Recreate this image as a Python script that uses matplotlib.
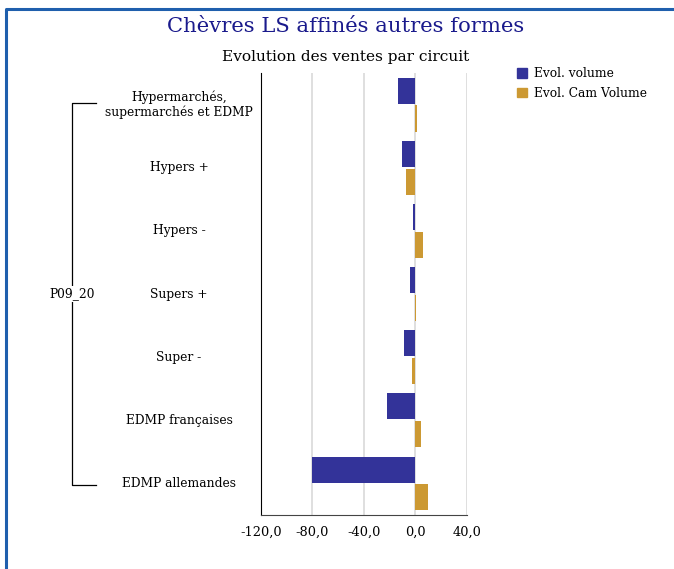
import matplotlib.pyplot as plt
import numpy as np
from matplotlib.lines import Line2D
from matplotlib.patches import Patch

categories = ['Hypermarchés,\nsupermarchés et EDMP', 'Hypers +', 'Hypers -',
              'Supers +', 'Super -', 'EDMP françaises', 'EDMP allemandes']
evol_volume = [-13.5, -10.4, -1.8, -4.1, -8.8, -22.1, -80.5]
evol_cam_volume = [1.3, -7.3, 6.0, 0.3, -2.6, 4.4, 9.9]
group_label = 'P09_20'
xticks = [-120, -80, -40, 0, 40]

plt.rcParams['font.family'] = ['DejaVu Serif']

fig = plt.figure(figsize=(6.74, 5.69), dpi=100)
ax = fig.add_axes([0.3872, 0.0949, 0.3056, 0.7768])

y = np.arange(len(categories))
h = 0.413
ax.barh(y - 0.22, evol_volume, height=h, color='#333399', label='Evol. volume', zorder=3)
ax.barh(y + 0.22, evol_cam_volume, height=h, color='#CC9933', label='Evol. Cam Volume', zorder=3)

ax.set_ylim(len(categories) - 0.5, -0.5)
ax.set_xlim(-120, 40)
ax.set_xticks(xticks)
ax.set_xticklabels([f'{v:.1f}'.replace('.', ',') for v in xticks], fontsize=9.3)
ax.set_yticks([])
ax.tick_params(axis='x', length=0, pad=8)
ax.grid(axis='x', color='#d9d9d9', linewidth=1.2, zorder=0)
for s in ['top', 'right']:
    ax.spines[s].set_visible(False)
ax.spines['left'].set_color('black')
ax.spines['bottom'].set_color('#444444')

# category labels, centred in the column left of the axis
for yi, lab in zip(y, categories):
    yp = ax.transData.transform((0, yi))[1]
    fig.text(179 / 674, yp / fig.dpi / fig.get_figheight(), lab, fontsize=8.8,
             ha='center', va='center', linespacing=1.2)

# bracket for group
ytop = 1 - 103 / 569
ybot = 1 - 485 / 569
bx = 72 / 674
bx2 = 96 / 674
fig.add_artist(Line2D([bx2, bx, bx, bx2], [ytop, ytop, ybot, ybot], color='black', lw=0.9))
ymid = (ytop + ybot) / 2
fig.text(bx, ymid, group_label, fontsize=8.8, ha='center', va='center',
         bbox=dict(facecolor='white', edgecolor='none', pad=1))

# titles
fig.text(346 / 674, 1 - 26 / 569, 'Chèvres LS affinés autres formes', fontsize=15.2,
         color='#1a1a8c', ha='center', va='center')
fig.text(346 / 674, 1 - 57 / 569, 'Evolution des ventes par circuit', fontsize=11.1,
         color='black', ha='center', va='center')

# legend
handles = [Patch(color='#333399'), Patch(color='#CC9933')]
fig.legend(handles, ['Evol. volume', 'Evol. Cam Volume'], loc='upper left',
           bbox_to_anchor=(506 / 674, 1 - 56 / 569), frameon=False, fontsize=8.8,
           handlelength=0.85, handleheight=0.85, handletextpad=0.55, labelspacing=0.55)

# border (top and left)
fig.add_artist(Line2D([6 / 674, 6 / 674, 1], [0, 1 - 9 / 569, 1 - 9 / 569],
                      color='#1f5fad', lw=2.2))

fig.savefig('out.png', dpi=100)
